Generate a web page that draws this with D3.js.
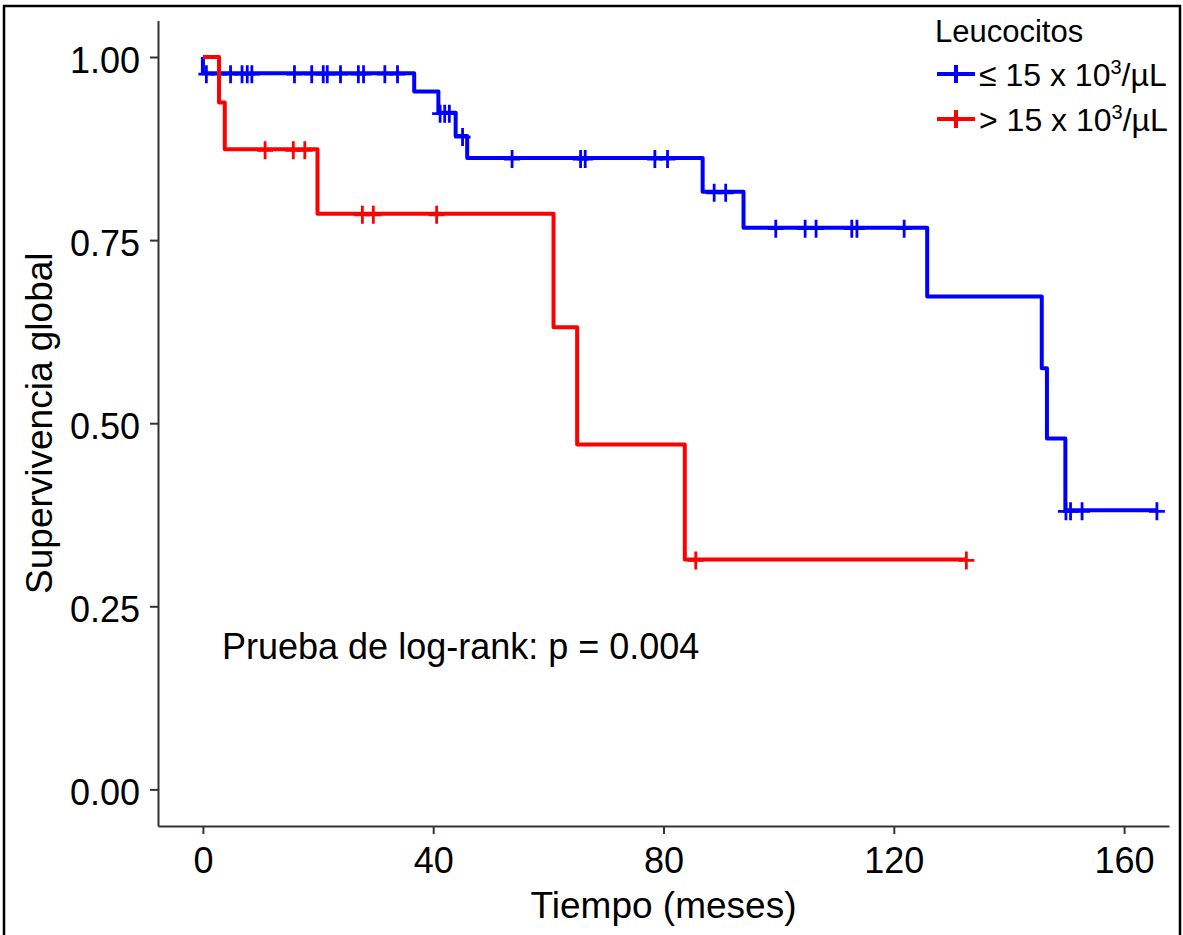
<!DOCTYPE html>
<html>
<head>
<meta charset="utf-8">
<script src="https://cdn.jsdelivr.net/npm/d3@7"></script>
<style>
  body { margin: 0; background: #fff; }
  svg text { font-family: "Liberation Sans", Arial, sans-serif; fill: #000; }
  .axis path, .axis line { stroke: #333; stroke-width: 2px; }
</style>
</head>
<body>
<div id="chart"></div>
<script>
// data (time in months, survival proportion)
const groups = ['≤ 15 x 10', '> 15 x 10'];
const colors = ['#0000ff', '#ff0000'];

// step curves: [time, survival after the step]
const lowSteps = [[0, 1], [0, 0.978], [36.7, 0.953], [40.9, 0.924], [43.9, 0.892], [45.9, 0.862],
  [86.8, 0.816], [93.9, 0.767], [125.8, 0.673], [145.7, 0.575], [146.6, 0.479], [149.8, 0.381]];
const lowEnd = 165.7;
const lowCensor = [0.6, 2.8, 4.8, 6.8, 7.7, 8.5, 15.9, 18.9, 20.9, 21.6, 23.9, 27.0, 27.9, 31.6, 33.8,
  41.2, 42.0, 42.8, 45.1, 53.7, 65.6, 66.4, 78.5, 80.7, 88.8, 90.8,
  99.5, 104.6, 106.5, 112.7, 113.6, 121.8, 149.9, 150.7, 152.7, 165.7];

const highSteps = [[0, 1], [2.8, 0.938], [3.8, 0.874], [19.9, 0.786], [60.9, 0.631], [65.0, 0.471], [83.7, 0.314]];
const highEnd = 132.6;
const highCensor = [10.8, 15.7, 17.7, 27.7, 29.6, 40.6, 85.6, 132.6];

const xTicks = [0, 40, 80, 120, 160];
const yTicks = [0, 0.25, 0.5, 0.75, 1];

const W = 1183, H = 935;
const svg = d3.select('#chart').append('svg')
    .attr('width', W)
    .attr('height', H);

svg.append('rect')
    .attr('width', W).attr('height', H)
    .attr('fill', '#fff');

// outer frame
svg.append('rect')
    .attr('x', 4).attr('y', 6)
    .attr('width', 1176).attr('height', 940)
    .attr('fill', 'none')
    .attr('stroke', '#000')
    .attr('stroke-width', 2.5);

// scales (panel with ggplot-like expansion)
const x = d3.scaleLinear().domain([-7.8, 167.8]).range([158, 1169]);
const y = d3.scaleLinear().domain([-0.05, 1.05]).range([826, 20.4]);

// axes
const axisX = d3.axisBottom(x)
    .tickValues(xTicks)
    .tickSize(8)
    .tickSizeOuter(0)
    .tickPadding(13);
const axisY = d3.axisLeft(y)
    .tickValues(yTicks)
    .tickSize(8)
    .tickSizeOuter(0)
    .tickPadding(10)
    .tickFormat(d3.format('.2f'));

const gx = svg.append('g')
    .attr('class', 'axis')
    .attr('transform', 'translate(0,826)')
    .call(axisX);
const gy = svg.append('g')
    .attr('class', 'axis')
    .attr('transform', 'translate(158,0)')
    .call(axisY);
svg.selectAll('.axis text')
    .attr('fill', '#000')
    .style('font-size', '36px')
    .style('font-family', '"Liberation Sans", Arial, sans-serif');
gy.selectAll('text').attr('dy', '0.42em');

// axis titles
svg.append('text')
    .attr('x', x(80))
    .attr('y', 918)
    .attr('text-anchor', 'middle')
    .style('font-size', '37px')
    .text('Tiempo (meses)');
svg.append('text')
    .attr('transform', `translate(52,${y(0.5)}) rotate(-90)`)
    .attr('text-anchor', 'middle')
    .style('font-size', '37px')
    .text('Supervivencia global');

// curves
const line = d3.line()
    .x(d => x(d[0]))
    .y(d => y(d[1]))
    .curve(d3.curveStepAfter);

function drawCurve(steps, end, censor, color) {
    const pts = steps.concat([[end, steps[steps.length - 1][1]]]);
    svg.append('path')
        .attr('d', line(pts))
        .attr('fill', 'none')
        .attr('stroke', color)
        .attr('stroke-width', 4)
        .attr('stroke-linejoin', 'round');

    // survival level at a censoring time
    const level = t => {
        let s = steps[0][1];
        steps.forEach(d => { if (d[0] <= t) s = d[1]; });
        return s;
    };
    const marks = svg.append('g');
    censor.forEach(t => {
        const cx = x(t), cy = y(level(t)) + 1;
        marks.append('path')
            .attr('d', `M${cx - 8},${cy}H${cx + 8}M${cx},${cy - 9}V${cy + 9}`)
            .attr('stroke', color)
            .attr('stroke-width', 2.8)
            .attr('fill', 'none');
    });
}
drawCurve(lowSteps, lowEnd, lowCensor, colors[0]);
drawCurve(highSteps, highEnd, highCensor, colors[1]);

// annotation
svg.append('text')
    .attr('x', 222)
    .attr('y', 659)
    .style('font-size', '36px')
    .text('Prueba de log-rank: p = 0.004');

// legend
const legend = svg.append('g');
legend.append('text')
    .attr('x', 935)
    .attr('y', 42)
    .style('font-size', '31px')
    .text('Leucocitos');
const rows = [74, 119];
groups.forEach((g, i) => {
    const ky = rows[i];
    legend.append('path')
        .attr('d', `M937,${ky}H975M956,${ky - 9}V${ky + 9}`)
        .attr('stroke', colors[i])
        .attr('stroke-width', 4)
        .attr('fill', 'none');
    const t = legend.append('text')
        .attr('x', 979)
        .attr('y', ky + 12)
        .style('font-size', '32px');
    t.append('tspan').text(g);
    t.append('tspan').attr('dy', -12).style('font-size', '20px').text('3');
    t.append('tspan').attr('dy', 12).text('/µL');
});
</script>
</body>
</html>
